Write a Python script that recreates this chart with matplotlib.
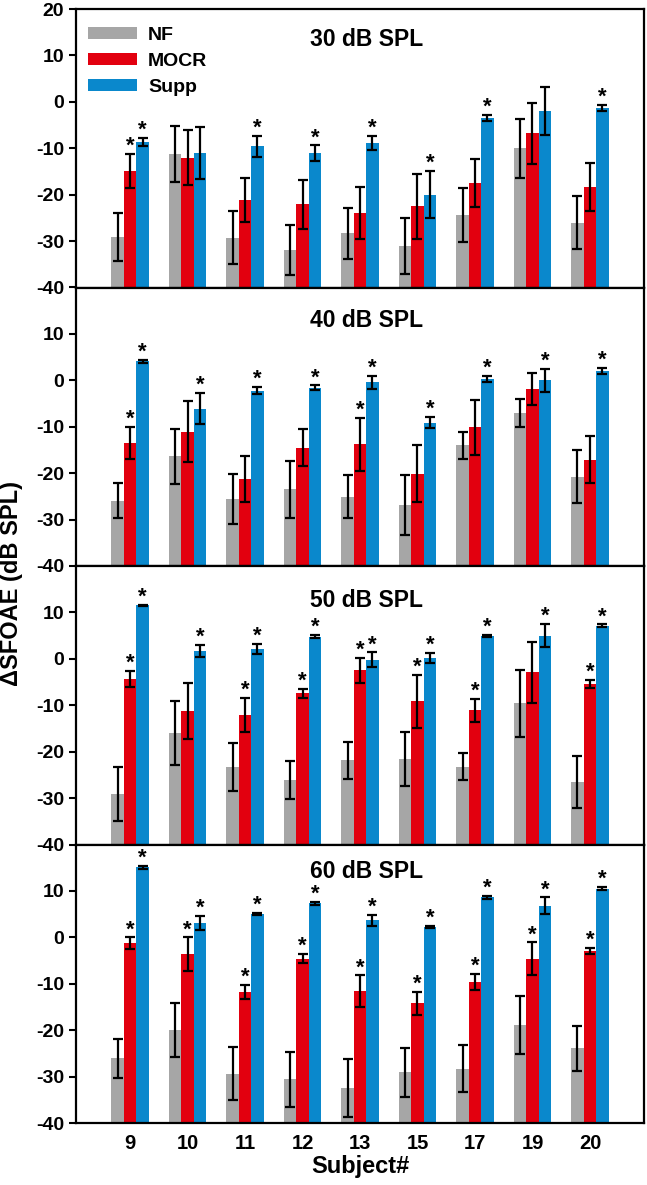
import matplotlib
matplotlib.use('Agg')
import matplotlib.pyplot as plt
from matplotlib.patches import Patch
import numpy as np

# ---------------- data ----------------
subjects = ['9', '10', '11', '12', '13', '15', '17', '19', '20']
levels = ['30 dB SPL', '40 dB SPL', '50 dB SPL', '60 dB SPL']
series_names = ['NF', 'MOCR', 'Supp']

nf30 = [-29.1, -11.3, -29.3, -31.9, -28.3, -31.0, -24.4, -10.0, -26.0]
nf30_err = [5.2, 6.0, 5.7, 5.4, 5.5, 6.0, 5.9, 6.4, 5.8]
mocr30 = [-14.9, -12.0, -21.2, -22.1, -23.9, -22.5, -17.5, -6.8, -18.4]
mocr30_err = [3.6, 6.0, 4.7, 5.3, 5.6, 7.0, 5.2, 6.6, 5.2]
supp30 = [-8.7, -11.0, -9.6, -11.1, -8.9, -20.0, -3.5, -2.0, -1.3]
supp30_err = [0.9, 5.6, 2.2, 1.7, 1.5, 5.1, 0.7, 5.1, 0.7]
mocr30_sig = [1, 0, 0, 0, 0, 0, 0, 0, 0]
supp30_sig = [1, 0, 1, 1, 1, 1, 1, 0, 1]

nf40 = [-25.9, -16.4, -25.6, -23.5, -25.1, -26.9, -14.0, -7.0, -20.8]
nf40_err = [3.8, 6.0, 5.4, 6.2, 4.6, 6.4, 2.9, 3.0, 5.7]
mocr40 = [-13.5, -11.1, -21.2, -14.5, -13.8, -20.1, -10.1, -1.9, -17.1]
mocr40_err = [3.5, 6.6, 5.0, 4.0, 5.7, 6.1, 5.9, 3.4, 5.1]
supp40 = [4.1, -6.1, -2.2, -1.6, -0.4, -9.1, 0.3, 0.0, 2.0]
supp40_err = [0.3, 3.4, 0.7, 0.5, 1.4, 1.2, 0.6, 2.5, 0.6]
mocr40_sig = [1, 0, 0, 0, 1, 0, 0, 0, 0]
supp40_sig = [1, 1, 1, 1, 1, 1, 1, 1, 1]

nf50 = [-29.2, -16.0, -23.3, -26.1, -21.9, -21.6, -23.2, -9.6, -26.6]
nf50_err = [5.8, 6.9, 5.2, 4.1, 3.9, 5.8, 2.9, 7.2, 5.6]
mocr50 = [-4.3, -11.2, -12.1, -7.4, -2.5, -9.1, -11.1, -2.9, -5.4]
mocr50_err = [1.7, 6.0, 3.7, 1.0, 2.7, 5.7, 2.5, 6.6, 0.9]
supp50 = [11.5, 1.7, 2.2, 4.8, -0.2, 0.1, 4.9, 5.0, 7.1]
supp50_err = [0.2, 1.3, 1.1, 0.3, 1.6, 1.1, 0.3, 2.5, 0.3]
mocr50_sig = [1, 0, 1, 1, 1, 1, 1, 0, 1]
supp50_sig = [1, 1, 1, 1, 1, 1, 1, 1, 1]

nf60 = [-26.1, -20.0, -29.4, -30.6, -32.4, -29.1, -28.3, -18.9, -23.9]
nf60_err = [4.3, 5.8, 5.7, 6.0, 6.2, 5.2, 5.1, 6.3, 4.8]
mocr60 = [-1.3, -3.6, -11.8, -4.6, -11.6, -14.2, -9.6, -4.6, -2.9]
mocr60_err = [1.3, 3.6, 1.5, 1.0, 3.4, 2.5, 1.8, 3.5, 0.7]
supp60 = [15.1, 3.1, 5.1, 7.3, 3.7, 2.3, 8.6, 6.8, 10.5]
supp60_err = [0.3, 1.6, 0.2, 0.3, 1.2, 0.2, 0.3, 1.8, 0.3]
mocr60_sig = [1, 1, 1, 1, 1, 1, 1, 1, 1]
supp60_sig = [1, 1, 1, 1, 1, 1, 1, 1, 1]

# ---------------- style ----------------
colors = ['#A6A6A6', '#E2000F', '#0A88CC']
ymin, ymax = -40, 20
title_y = [0.892, 0.883, 0.875, 0.902]

plt.rcParams['font.family'] = ['Liberation Sans', 'DejaVu Sans']
plt.rcParams['font.weight'] = 'bold'
plt.rcParams['axes.unicode_minus'] = False

panels = [
    ([nf30, mocr30, supp30], [nf30_err, mocr30_err, supp30_err], [None, mocr30_sig, supp30_sig]),
    ([nf40, mocr40, supp40], [nf40_err, mocr40_err, supp40_err], [None, mocr40_sig, supp40_sig]),
    ([nf50, mocr50, supp50], [nf50_err, mocr50_err, supp50_err], [None, mocr50_sig, supp50_sig]),
    ([nf60, mocr60, supp60], [nf60_err, mocr60_err, supp60_err], [None, mocr60_sig, supp60_sig]),
]

fig = plt.figure(figsize=(6.47, 11.85), dpi=100)
gs = fig.add_gridspec(4, 1, left=76/647, right=644/647, top=1-9/1185,
                      bottom=1-1123/1185, hspace=0)

x = np.arange(len(subjects))
w = 0.217
offsets = [-w, 0, w]

axes = []
for p, (vals, errs, sigs) in enumerate(panels):
    ax = fig.add_subplot(gs[p])
    axes.append(ax)
    for s in range(3):
        v = np.array(vals[s])
        e = np.array(errs[s])
        xs = x + offsets[s]
        ax.bar(xs, v - ymin, bottom=ymin, width=w, color=colors[s],
               edgecolor='none', zorder=2)
        ax.errorbar(xs, v, yerr=e, fmt='none', ecolor='black', elinewidth=1.6,
                    capsize=3.6, capthick=1.6, zorder=3)
        if sigs[s] is not None:
            for i, flag in enumerate(sigs[s]):
                if flag:
                    ax.annotate('*', xy=(xs[i], v[i] + e[i]), xytext=(0, 1.5),
                                textcoords='offset points', ha='center',
                                va='baseline', fontsize=16, fontweight='bold',
                                zorder=4)
    ax.set_xlim(-0.94, len(subjects) - 1 + 0.94)
    ax.set_ylim(ymin, ymax)
    if p == 0:
        ax.set_yticks([-40, -30, -20, -10, 0, 10, 20])
    else:
        ax.set_yticks([-40, -30, -20, -10, 0, 10])
    ax.tick_params(axis='y', direction='out', length=5, width=1.5, labelsize=14)
    ax.set_xticks(x)
    if p == 3:
        ax.set_xticklabels(subjects, fontsize=14.5, fontweight='bold')
        ax.tick_params(axis='x', length=0, pad=8)
    else:
        ax.set_xticklabels([])
        ax.tick_params(axis='x', length=0)
    for lbl in ax.get_yticklabels():
        lbl.set_fontweight('bold')
    for sp in ax.spines.values():
        sp.set_linewidth(1.6)
    ax.text(0.512, title_y[p], levels[p], transform=ax.transAxes, ha='center',
            va='center', fontsize=16.5, fontweight='bold')

handles = [Patch(facecolor=colors[s], edgecolor='none', label=series_names[s]) for s in range(3)]
leg = axes[0].legend(handles=handles, loc='upper left', bbox_to_anchor=(0.021, 0.935),
                     frameon=False, borderpad=0, borderaxespad=0, handlelength=2.5,
                     handleheight=0.6, handletextpad=0.6, labelspacing=0.45,
                     prop={'size': 14, 'weight': 'bold'})

fig.text(0.018, 1 - 584/1185, 'ΔSFOAE (dB SPL)', rotation=90, ha='center', va='center',
         fontsize=17, fontweight='bold')
fig.text(360/647, 1 - 1166/1185, 'Subject#', ha='center', va='center',
         fontsize=17, fontweight='bold')

fig.savefig('out.png', dpi=100)
